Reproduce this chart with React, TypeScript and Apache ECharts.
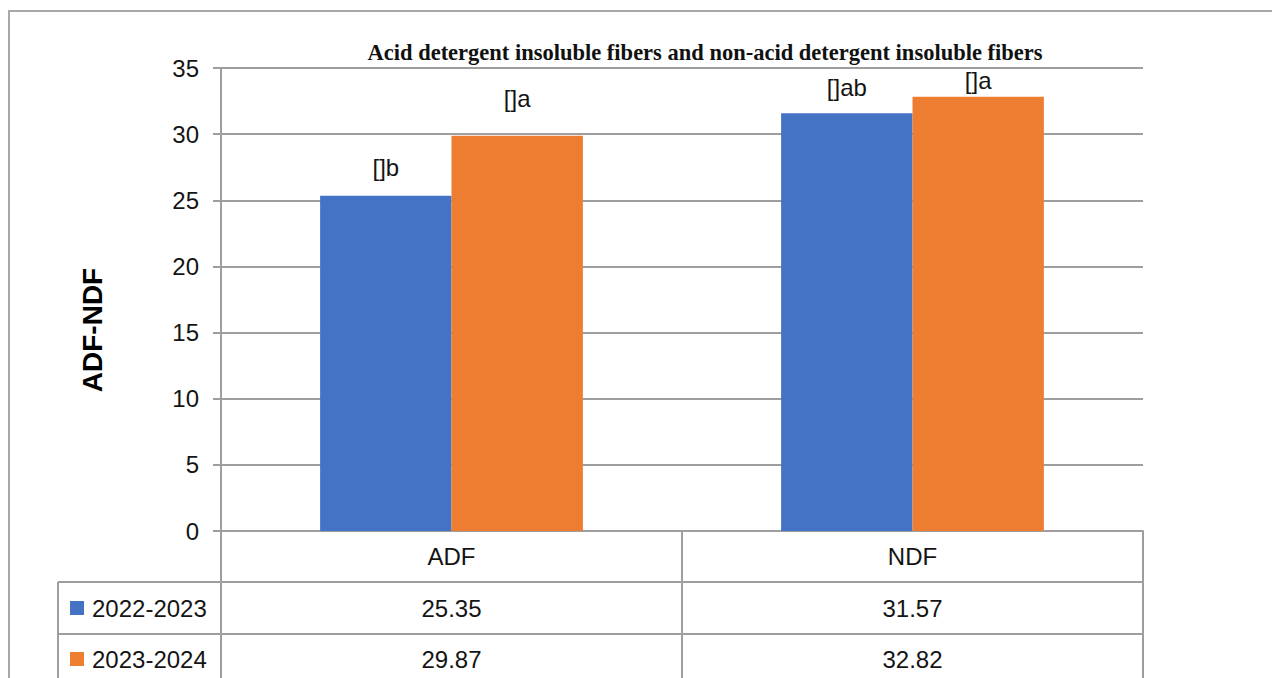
import React, { useEffect, useRef } from "react";
import * as echarts from "echarts";

const categories = ["ADF", "NDF"];
const seriesNames = ["2022-2023", "2023-2024"];
const values2022 = [25.35, 31.57];
const values2023 = [29.87, 32.82];
const letters2022 = ["[]b", "[]ab"];
const letters2023 = ["[]a", "[]a"];
const seriesColors = ["#4472C4", "#ED7D31"];
const yMin = 0;
const yMax = 35;
const yStep = 5;
const titleText = "Acid detergent insoluble fibers and non-acid detergent insoluble fibers";
const yAxisTitle = "ADF-NDF";

// label lift (styling only)
const lift2022 = [16, 14];
const lift2023 = [25, 4];

const W = 1272;
const H = 678;
const GL = 221;
const GT = 68;
const GR = 1143;
const GB = 531;
const ROW1 = 582;
const ROW2 = 634;
const TABLE_LEFT = 58;
const GRAY = "#9e9e9e";
const FONT = "Liberation Sans";
const TXT = "#141414";

export default function App() {
  const ref = useRef<HTMLDivElement>(null);
  useEffect(() => {
    if (!ref.current) return;
    const chart = echarts.init(ref.current, null, { renderer: "svg" });
    const catW = (GR - GL) / categories.length;
    const allValues = [values2022, values2023];
    const graphic: any[] = [
      {
        type: "rect",
        shape: { x: 9, y: 11, width: 1400, height: 800 },
        style: { fill: "none", stroke: "#a8a8a8", lineWidth: 2 },
        silent: true,
      },
      { type: "line", shape: { x1: TABLE_LEFT, y1: ROW1, x2: GR, y2: ROW1 }, style: { stroke: GRAY, lineWidth: 2 } },
      { type: "line", shape: { x1: TABLE_LEFT, y1: ROW2, x2: GR, y2: ROW2 }, style: { stroke: GRAY, lineWidth: 2 } },
      { type: "line", shape: { x1: TABLE_LEFT, y1: ROW1, x2: TABLE_LEFT, y2: H + 10 }, style: { stroke: GRAY, lineWidth: 2 } },
      {
        type: "text",
        x: 92,
        y: 330,
        rotation: Math.PI / 2,
        style: {
          text: yAxisTitle,
          fontFamily: FONT,
          fontWeight: "bold",
          fontSize: 28,
          fill: "#000",
          align: "center",
          verticalAlign: "middle",
        },
      },
    ];
    allValues.forEach((vals, r) => {
      vals.forEach((v, i) => {
        graphic.push({
          type: "text",
          x: GL + (i + 0.5) * catW,
          y: r === 0 ? 608 : 659,
          style: {
            text: v.toFixed(2),
            fontFamily: FONT,
            fontSize: 24,
            fill: TXT,
            align: "center",
            verticalAlign: "middle",
          },
        });
      });
    });

    const makeSeries = (name: string, vals: number[], letters: string[], lift: number[], color: string) => ({
      name,
      type: "bar",
      barGap: "0%",
      barCategoryGap: "43%",
      itemStyle: { color },
      data: vals.map((v, i) => ({ value: v, label: { distance: lift[i] } })),
      label: {
        show: true,
        position: "top",
        formatter: (p: any) => letters[p.dataIndex],
        fontFamily: FONT,
        fontSize: 24,
        color: TXT,
      },
    });

    chart.setOption({
      animation: false,
      title: {
        text: titleText,
        left: 700,
        top: 36,
        textAlign: "center",
        textStyle: { fontFamily: "Liberation Serif", fontWeight: "bold", fontSize: 22.5, color: "#111" },
      },
      legend: {
        orient: "vertical",
        left: 70,
        top: 596,
        padding: 0,
        icon: "rect",
        itemWidth: 14,
        itemHeight: 14,
        itemGap: 27,
        data: seriesNames,
        textStyle: { fontFamily: FONT, fontSize: 24, color: TXT, padding: [0, 0, 0, 3] },
        selectedMode: false,
      },
      grid: { left: GL, top: GT, right: W - GR, bottom: H - GB, containLabel: false },
      xAxis: {
        type: "category",
        data: categories,
        axisLine: { show: true, lineStyle: { color: GRAY, width: 2 } },
        axisTick: { show: true, length: 160, lineStyle: { color: GRAY, width: 2 } },
        axisLabel: { margin: 13, fontFamily: FONT, fontSize: 24, color: TXT },
      },
      yAxis: {
        type: "value",
        min: yMin,
        max: yMax,
        interval: yStep,
        axisLine: { show: true, lineStyle: { color: GRAY, width: 2 } },
        axisTick: { show: true, length: 8, lineStyle: { color: GRAY, width: 2 } },
        splitLine: { show: true, lineStyle: { color: GRAY, width: 2 } },
        axisLabel: { margin: 22, fontFamily: FONT, fontSize: 24, color: TXT },
      },
      graphic,
      series: [
        makeSeries(seriesNames[0], values2022, letters2022, lift2022, seriesColors[0]),
        makeSeries(seriesNames[1], values2023, letters2023, lift2023, seriesColors[1]),
      ],
    });
    return () => chart.dispose();
  }, []);
  return (
    <div
      ref={ref}
      style={{ position: "fixed", left: 0, top: 0, width: W, height: H, background: "#fff" }}
    />
  );
}
